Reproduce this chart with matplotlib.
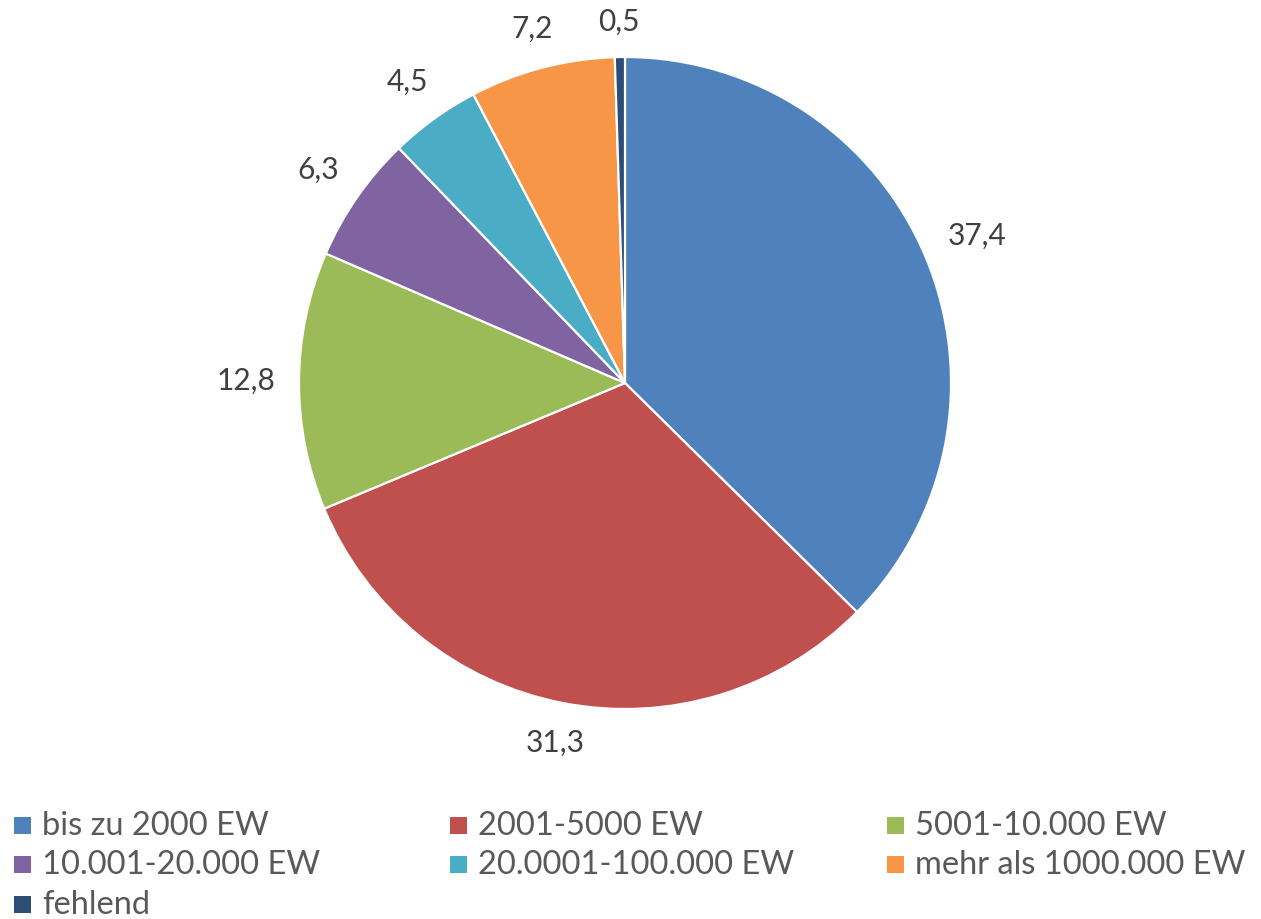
import matplotlib
matplotlib.use("Agg")
import matplotlib.pyplot as plt
from matplotlib.patches import Rectangle
import numpy as np

categories = ["bis zu 2000 EW", "2001-5000 EW", "5001-10.000 EW",
              "10.001-20.000 EW", "20.0001-100.000 EW", "mehr als 1000.000 EW",
              "fehlend"]
values = [37.4, 31.3, 12.8, 6.3, 4.5, 7.2, 0.5]
value_labels = ["37,4", "31,3", "12,8", "6,3", "4,5", "7,2", "0,5"]
colors = ["#4F81BD", "#C0504D", "#9BBB59", "#8064A2", "#4BACC6", "#F79646", "#2C4D75"]

plt.rcParams['font.family'] = ['Lato', 'DejaVu Sans']

W, H = 1261, 919
fig = plt.figure(figsize=(W / 100, H / 100), dpi=100)
cx, cy, R = 625, 383, 326
ax = fig.add_axes([(cx - R) / W, (H - cy - R) / H, 2 * R / W, 2 * R / H])
ax.set_xlim(-1, 1)
ax.set_ylim(-1, 1)
ax.set_aspect('equal')
ax.axis('off')

wedges, _ = ax.pie(values, colors=colors, startangle=90, counterclock=False,
                   radius=1.0, wedgeprops=dict(edgecolor='white', linewidth=1.6))
ax.set_xlim(-1, 1)
ax.set_ylim(-1, 1)

fig.canvas.draw()
renderer = fig.canvas.get_renderer()
gap = 24  # px
for w, lab in zip(wedges, value_labels):
    ang = np.deg2rad((w.theta1 + w.theta2) / 2)
    t = ax.text(0, 0, lab, fontsize=21.5, color='#404040', ha='center', va='center')
    bb = t.get_window_extent(renderer)
    tw, th = bb.width, bb.height * 0.8
    d = R + gap + 0.5 * (tw * abs(np.cos(ang)) + th * abs(np.sin(ang)))
    t.set_position((d / R * np.cos(ang), d / R * np.sin(ang)))

# legend
col_x = [14, 450, 887]
row_y = [825, 864, 904]
sq = 17
for i, (cat, col) in enumerate(zip(categories, colors)):
    c, r = i % 3, i // 3
    x0, y0 = col_x[c], row_y[r]
    fig.patches.append(Rectangle((x0 / W, (H - y0 - sq / 2) / H), sq / W, sq / H,
                                 transform=fig.transFigure, facecolor=col,
                                 edgecolor='none'))
    fig.text((x0 + 28) / W, (H - y0 - 1) / H, cat, fontsize=23.5, color='#595959',
             ha='left', va='center')

fig.savefig("out.png", dpi=100)
